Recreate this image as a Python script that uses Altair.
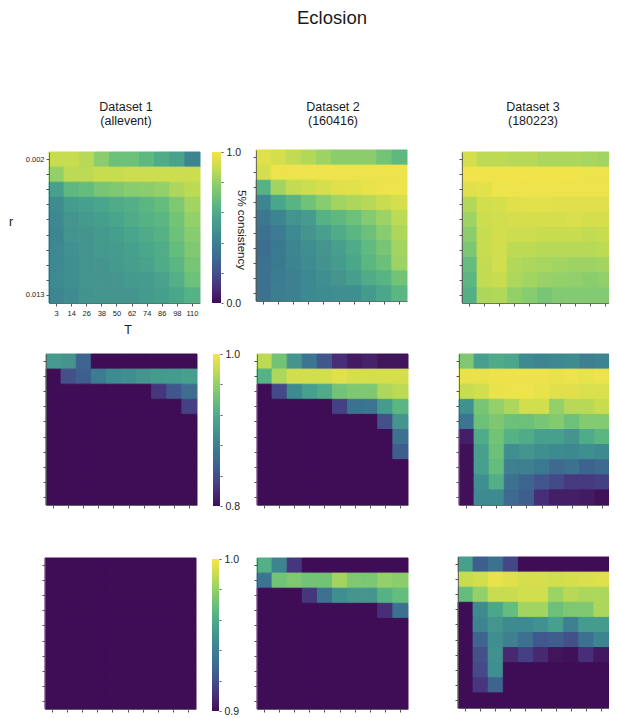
import altair as alt
import pandas as pd

T_VALUES = [3, 14, 26, 38, 50, 62, 74, 86, 98, 110]
R_VALUES = ["0.002", "0.003", "0.004", "0.005", "0.006", "0.007", "0.008", "0.010", "0.011", "0.013"]

TOP_1 = [[.90,.90,.87,.78,.70,.70,.66,.60,.56,.42],
         [.80,.88,.88,.90,.90,.91,.91,.91,.91,.91],
         [.55,.66,.68,.73,.75,.77,.78,.80,.85,.88],
         [.46,.53,.55,.57,.60,.62,.65,.68,.75,.83],
         [.44,.50,.52,.54,.57,.60,.63,.65,.72,.80],
         [.43,.49,.50,.52,.54,.57,.60,.63,.70,.77],
         [.44,.48,.50,.52,.53,.55,.58,.61,.68,.75],
         [.44,.47,.49,.50,.52,.54,.56,.60,.65,.73],
         [.45,.47,.49,.50,.50,.52,.53,.56,.62,.70],
         [.43,.46,.49,.50,.50,.50,.52,.54,.58,.63]]
TOP_2 = [[.95,.93,.89,.86,.82,.78,.78,.78,.72,.66],
         [.93,.98,.98,.98,.98,.98,.98,.98,.98,.98],
         [.63,.83,.89,.91,.93,.95,.96,.97,.98,.98],
         [.43,.57,.64,.71,.77,.83,.85,.87,.90,.93],
         [.36,.42,.49,.53,.63,.66,.70,.76,.82,.88],
         [.33,.38,.45,.50,.55,.60,.65,.70,.77,.85],
         [.32,.37,.43,.47,.50,.55,.60,.67,.73,.83],
         [.33,.37,.42,.46,.49,.53,.58,.65,.70,.82],
         [.33,.38,.41,.44,.47,.50,.54,.60,.64,.72],
         [.33,.39,.41,.44,.46,.47,.47,.52,.58,.65]]
TOP_3 = [[.93,.88,.88,.87,.87,.85,.85,.85,.84,.83],
         [.99,.99,.99,.99,.99,.99,.99,.99,.98,.98],
         [.95,.96,.98,.98,.98,.98,.98,.98,.98,.98],
         [.86,.92,.93,.95,.96,.96,.95,.95,.95,.95],
         [.82,.91,.92,.93,.93,.93,.93,.94,.93,.93],
         [.78,.90,.92,.91,.91,.90,.90,.90,.89,.90],
         [.74,.90,.92,.88,.88,.87,.87,.87,.87,.88],
         [.68,.89,.92,.86,.85,.84,.83,.82,.82,.83],
         [.65,.89,.90,.85,.83,.81,.80,.79,.78,.79],
         [.62,.85,.86,.80,.77,.73,.76,.76,.76,.76]]

MID_1 = [[.906,.90,.856,.80,.80,.80,.80,.80,.80,.80],
         [.80,.84,.85,.876,.89,.894,.90,.904,.906,.91],
         [.80,.80,.80,.80,.80,.80,.80,.824,.844,.864],
         [.80,.80,.80,.80,.80,.80,.80,.80,.80,.83],
         [.80]*10, [.80]*10, [.80]*10, [.80]*10, [.80]*10, [.80]*10]
MID_2 = [[.976,.944,.90,.87,.844,.82,.808,.812,.804,.804],
         [.926,.97,.984,.984,.984,.99,.986,.986,.986,.986],
         [.80,.836,.89,.91,.92,.944,.95,.95,.97,.976],
         [.80,.80,.80,.80,.80,.83,.866,.87,.906,.93],
         [.80,.80,.80,.80,.80,.80,.80,.80,.84,.90],
         [.80,.80,.80,.80,.80,.80,.80,.80,.80,.866],
         [.80,.80,.80,.80,.80,.80,.80,.80,.80,.85],
         [.80]*10, [.80]*10, [.80]*10]
MID_3 = [[.95,.91,.92,.916,.89,.886,.888,.892,.88,.884],
         [.994,.994,.996,.996,.996,.996,.994,.996,.994,.996],
         [.98,.984,.994,.996,.996,.994,.99,.99,.988,.988],
         [.896,.946,.96,.97,.984,.984,.96,.974,.974,.98],
         [.87,.94,.95,.94,.94,.946,.952,.94,.952,.952],
         [.81,.92,.944,.926,.92,.91,.91,.90,.92,.93],
         [.802,.91,.94,.894,.90,.894,.89,.888,.894,.89],
         [.802,.91,.936,.88,.88,.874,.86,.866,.854,.86],
         [.802,.894,.924,.866,.856,.844,.836,.826,.826,.83],
         [.802,.89,.89,.86,.85,.82,.81,.81,.808,.802]]

LOW_1 = [[.90]*10 for _ in range(10)]
LOW_2 = [[.962,.942,.912,.90,.90,.90,.90,.90,.90,.90],
         [.935,.972,.975,.972,.972,.983,.975,.974,.98,.978],
         [.90,.90,.90,.912,.933,.947,.95,.95,.963,.968],
         [.90,.90,.90,.90,.90,.90,.90,.90,.91,.933],
         [.90]*10, [.90]*10, [.90]*10, [.90]*10, [.90]*10, [.90]*10]
LOW_3 = [[.955,.925,.933,.917,.90,.90,.90,.90,.90,.90],
         [.99,.992,.997,.995,.993,.993,.992,.993,.994,.995],
         [.968,.98,.99,.99,.992,.992,.982,.987,.985,.985],
         [.90,.945,.958,.968,.983,.983,.97,.975,.975,.985],
         [.90,.942,.95,.945,.945,.948,.955,.94,.953,.953],
         [.90,.928,.947,.94,.933,.923,.925,.92,.933,.942],
         [.90,.92,.948,.908,.915,.908,.902,.901,.91,.903],
         [.90,.918,.947,.90,.90,.90,.90,.90,.90,.90],
         [.90,.912,.927,.90,.90,.90,.90,.90,.90,.90],
         [.90]*10]

TOP_DOMAIN = [0.0, 1.0]
MID_DOMAIN = [0.8, 1.0]
LOW_DOMAIN = [0.9, 1.0]
TOP_TICKS = [0.0, 0.2, 0.4, 0.6, 0.8, 1.0]
MID_TICKS = [0.8, 0.84, 0.88, 0.92, 0.96, 1.0]
LOW_TICKS = [0.9, 0.92, 0.94, 0.96, 0.98, 1.0]
COLOUR_STOPS = ["#3f0d55", "#482e78", "#44508a", "#3f6a8f", "#3e7f90", "#45958e",
                "#4fab88", "#6cc079", "#94d069", "#c8dc50", "#f6e44a"]

W, H = 601, 708
FONT = "Liberation Sans"
TICK = "#555555"


def long_form(matrix):
    rows = []
    for r, line in zip(R_VALUES, matrix):
        for t, v in zip(T_VALUES, line):
            rows.append({"T": t, "r": r, "v": v})
    return pd.DataFrame(rows)


def colour_scale(domain, nudge=0.0):
    n = len(COLOUR_STOPS) - 1
    stops = [domain[0] + (domain[1] - domain[0]) * i / n + nudge for i in range(n + 1)]
    return alt.Scale(domain=stops, range=COLOUR_STOPS)


def panel(matrix, left, top, domain, size=151, legend=None, show_t=False, show_r=False):
    bottom = top + size
    x_axis = alt.Axis(orient="bottom", offset=bottom - H, title=None, labels=show_t, labelAngle=0,
                      labelFontSize=7.5, labelFont=FONT, labelColor="#222222", labelPadding=3,
                      tickSize=3, tickColor=TICK, domainColor=TICK, domainWidth=0.8, grid=False)
    y_axis = alt.Axis(orient="left", offset=-left, title=None, labels=show_r, labelFontSize=7.5,
                      labelFont=FONT, labelColor="#222222", labelPadding=2,
                      labelExpr="datum.value == '0.002' || datum.value == '0.013' ? datum.value : ''",
                      tickSize=3, tickColor=TICK, domainColor=TICK, domainWidth=0.8, grid=False)
    return alt.Chart(long_form(matrix)).mark_rect(strokeWidth=1).encode(
        x=alt.X("T:O", axis=x_axis,
                scale=alt.Scale(domain=T_VALUES, range=[left, left + size], paddingInner=0, paddingOuter=0)),
        y=alt.Y("r:O", axis=y_axis,
                scale=alt.Scale(domain=R_VALUES, range=[top, bottom], paddingInner=0, paddingOuter=0)),
        color=alt.Color("v:Q", scale=colour_scale(domain), legend=legend),
        stroke=alt.Stroke("v:Q", scale=colour_scale(domain, 1e-9), legend=None),
    )


def bar_legend(left, top, length, thickness):
    return alt.Legend(type="gradient", orient="none", legendX=left, legendY=top, direction="vertical", title=None,
                      gradientLength=length, gradientThickness=thickness, labelOpacity=0,
                      labelFontSize=1, tickCount=2, gradientStrokeWidth=0)


def bar_ticks(right, top, length, domain, ticks):
    axis = alt.Axis(orient="right", offset=right - W, values=ticks, title=None, domain=False, grid=False,
                    labelExpr=f"datum.value == {domain[0]} || datum.value == {domain[1]} ? format(datum.value, '.1f') : ''",
                    tickSize=2, tickColor=TICK, labelFontSize=10.5, labelFont=FONT, labelColor="#222222",
                    labelPadding=3)
    return alt.Chart(pd.DataFrame({"c": domain})).mark_rule(opacity=0).encode(
        y=alt.Y("c:Q", axis=axis, scale=alt.Scale(domain=domain, range=[top + length, top], nice=False, zero=False))
    )


def label(text, x, y, size, angle=0):
    mark = alt.Chart(pd.DataFrame({"t": [text]})).mark_text(
        font=FONT, fontSize=size, color="#1a1a1a", angle=angle, align="center", baseline="middle")
    return mark.encode(x=alt.value(x), y=alt.value(y), text=alt.Text("t:N"))


layers = [
    panel(TOP_1, 41, 144, TOP_DOMAIN, legend=bar_legend(204, 144, 151, 9), show_t=True, show_r=True),
    panel(TOP_2, 248, 142, TOP_DOMAIN),
    panel(TOP_3, 454, 144, TOP_DOMAIN),
    panel(MID_1, 38, 346, MID_DOMAIN, legend=bar_legend(205, 346, 152, 7)),
    panel(MID_2, 249, 346, MID_DOMAIN),
    panel(MID_3, 451, 346, MID_DOMAIN),
    panel(LOW_1, 37, 550, LOW_DOMAIN, legend=bar_legend(204, 551, 152, 7)),
    panel(LOW_2, 249, 550, LOW_DOMAIN),
    panel(LOW_3, 450, 549, LOW_DOMAIN),
    bar_ticks(213, 144, 151, TOP_DOMAIN, TOP_TICKS),
    bar_ticks(212, 346, 152, MID_DOMAIN, MID_TICKS),
    bar_ticks(211, 551, 152, LOW_DOMAIN, LOW_TICKS),
    label("Eclosion", 324, 10, 18.5),
    label("Dataset 1", 118, 99, 12.5),
    label("(allevent)", 118, 113, 12.5),
    label("Dataset 2", 325, 99, 12.5),
    label("(160416)", 325, 113, 12.5),
    label("Dataset 3", 525, 99, 12.5),
    label("(180223)", 525, 113, 12.5),
    label("r", 3, 214, 12.5),
    label("T", 120, 322, 12.5),
    label("5% consistency", 233, 222, 11.5, angle=90),
]

chart = alt.layer(*layers).resolve_scale(x="independent", y="independent", color="independent",
                                         stroke="independent").properties(
    width=W, height=H, padding=0, autosize=alt.AutoSizeParams(type="none")
).configure_view(stroke=None)

chart.save("out.html", embed_options={"renderer": "svg", "actions": False})
